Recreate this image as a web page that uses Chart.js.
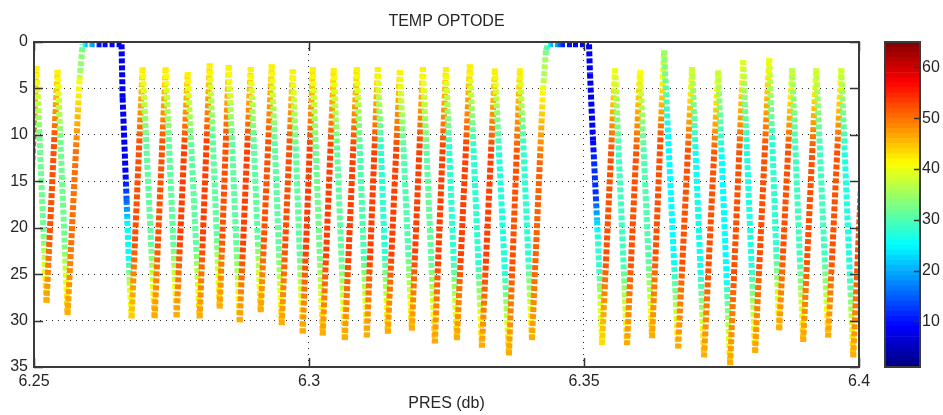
<!DOCTYPE html>
<html>
<head>
<meta charset="utf-8">
<script src="https://cdn.jsdelivr.net/npm/chart.js@4.4.1/dist/chart.umd.min.js"></script>
<style>
  body { margin: 0; background: #fff; }
  #wrap { position: relative; width: 943px; height: 415px; }
  #main { position: absolute; left: 0; top: 0; }
  #bar { position: absolute; left: 860px; top: 0; }
</style>
</head>
<body>
<div id="wrap">
  <canvas id="main" width="943" height="415"></canvas>
  <canvas id="bar" width="83" height="415"></canvas>
</div>
<script>
// turning points of the profile track (pressure, depth) with optode reading
const pres = [
  6.24864, 6.25045, 6.25227, 6.25428, 6.2561, 6.25828, 6.25883, 6.26137, 6.26247, 6.26592,
  6.26611, 6.26683, 6.26738, 6.26774, 6.26975, 6.27193, 6.27393, 6.27593, 6.27793, 6.28012,
  6.28194, 6.28376, 6.2854, 6.2874, 6.2894, 6.29122, 6.29322, 6.29504, 6.29704, 6.29886,
  6.30068, 6.3025, 6.3045, 6.30651, 6.30869, 6.31051, 6.31251, 6.31433, 6.31652, 6.3187,
  6.3207, 6.32288, 6.32489, 6.32689, 6.32925, 6.33144, 6.3338, 6.33635, 6.33835, 6.34054,
  6.34254, 6.34309, 6.34345, 6.34563, 6.348, 6.35091, 6.35109, 6.35164, 6.35237, 6.35291,
  6.35328, 6.35564, 6.35783, 6.36019, 6.36238, 6.36456, 6.36711, 6.36965, 6.37184, 6.37439,
  6.37657, 6.37894, 6.38112, 6.38367, 6.38549, 6.38785, 6.38985, 6.39222, 6.3944, 6.39677,
  6.39895, 6.40132
];
const depth = [
  27.8, 2.6, 28.1, 3.0, 29.4, 4.1, 0.25, 0.25, 0.25, 0.25,
  6.0, 17.0, 25.7, 29.75, 2.7, 29.75, 2.7, 29.65, 3.25, 29.75,
  2.3, 28.7, 2.5, 30.2, 2.7, 29.1, 2.4, 30.5, 2.95, 31.4,
  2.7, 31.6, 2.85, 32.1, 2.7, 31.8, 2.7, 31.4, 3.05, 31.05,
  2.7, 32.45, 2.7, 32.1, 2.4, 32.9, 2.85, 33.75, 2.85, 32.1,
  5.2, 0.9, 0.25, 0.25, 0.25, 0.25, 3.4, 10.6, 19.2, 26.4,
  32.65, 2.85, 32.65, 3.05, 31.9, 0.9, 33.0, 2.7, 33.95, 3.05,
  34.8, 1.95, 33.5, 1.75, 31.05, 2.85, 32.3, 2.85, 31.8, 2.85,
  33.95, 2.85
];
const optode = [
  46, 42, 46, 42, 46, 40, 30, 12, 10, 8,
  8, 15, 36, 44, 42, 46, 42, 46, 42, 46,
  42, 46, 42, 46, 42, 46, 42, 46, 42, 46,
  42, 46, 42, 46, 42, 46, 42, 46, 42, 46,
  42, 46, 42, 46, 42, 46, 42, 46, 42, 46,
  41, 32, 28, 14, 9, 8, 8, 9, 22, 34,
  43, 40, 46, 41, 46, 35, 46, 38, 46, 38,
  46, 39, 46, 40, 46, 37, 46, 38, 46, 38,
  46, 42
];
// optode reading in the middle of each leg between two turning points
const optodeMid = [
  52, 32, 52, 32, 50, 34, 20, 10, 9, 8,
  8, 25, 40, 52, 31, 52, 31, 53, 31, 53,
  31, 52, 31, 53, 31, 52, 31, 52, 31, 53,
  32, 53, 31, 53, 30, 53, 28, 53, 30, 53,
  31, 53, 28, 53, 28, 53, 27, 52, 28, 51,
  36, 30, 20, 10, 8, 8, 8, 12, 28, 39,
  52, 29, 52, 30, 52, 25, 52, 26, 52, 25,
  52, 27, 52, 28, 52, 29, 52, 29, 52, 27,
  52
];

const presTicks = [6.25, 6.3, 6.35, 6.4];
const depthTicks = [0, 5, 10, 15, 20, 25, 30, 35];
const cbTicks = [10, 20, 30, 40, 50, 60];
const cbMin = 1;
const cbMax = 65;

Chart.defaults.font.family = "'Liberation Sans', Arial, sans-serif";
Chart.defaults.font.size = 16;
Chart.defaults.color = "#262626";

function jet(v) {
  const t = Math.min(1, Math.max(0, (v - cbMin) / (cbMax - cbMin)));
  const f = (c) => Math.round(255 * Math.min(1, Math.max(0, 1.5 - Math.abs(4 * t - c))));
  return `rgb(${f(3)},${f(2)},${f(1)})`;
}

const mainCanvas = document.getElementById("main");
const mainCtx = mainCanvas.getContext("2d");

function legColor(ctx) {
  const i = ctx.p0DataIndex;
  const v0 = optode[i];
  const vm = optodeMid[i];
  const v1 = optode[i + 1];
  const g = mainCtx.createLinearGradient(ctx.p0.x, ctx.p0.y, ctx.p1.x, ctx.p1.y);
  for (let s = 0; s <= 20; s++) {
    const t = s / 20;
    let v = vm;
    if (t < 0.3) v = v0 + ((vm - v0) * t) / 0.3;
    else if (t > 0.7) v = vm + ((v1 - vm) * (t - 0.7)) / 0.3;
    g.addColorStop(t, jet(v));
  }
  return g;
}

const axesBox = {
  id: "axesBox",
  afterDatasetsDraw(chart) {
    const { ctx, chartArea: a, scales } = chart;
    ctx.save();
    ctx.strokeStyle = "#333";
    ctx.lineWidth = 1.5;
    ctx.beginPath();
    presTicks.forEach((v) => {
      const px = Math.round(scales.x.getPixelForValue(v)) + 0.5;
      ctx.moveTo(px, a.bottom);
      ctx.lineTo(px, a.bottom - 9);
      ctx.moveTo(px, a.top);
      ctx.lineTo(px, a.top + 9);
    });
    depthTicks.forEach((v) => {
      const py = Math.round(scales.y.getPixelForValue(v)) + 0.5;
      ctx.moveTo(a.left, py);
      ctx.lineTo(a.left + 9, py);
      ctx.moveTo(a.right, py);
      ctx.lineTo(a.right - 9, py);
    });
    ctx.stroke();
    ctx.lineWidth = 2;
    ctx.strokeStyle = "#3a3a3a";
    ctx.strokeRect(a.left, a.top, a.width, a.height);
    ctx.restore();
  },
};

new Chart(mainCanvas, {
  type: "scatter",
  data: {
    datasets: [
      {
        label: "TEMP OPTODE",
        data: pres.map((x, i) => ({ x, y: depth[i] })),
        showLine: true,
        pointRadius: 0,
        pointHoverRadius: 0,
        borderWidth: 6,
        borderDash: [5, 2],
        borderColor: jet(46),
        clip: 0,
        segment: { borderColor: legColor },
      },
    ],
  },
  options: {
    responsive: false,
    animation: false,
    events: [],
    layout: { padding: { left: 0, right: 84, top: 0, bottom: 0 } },
    plugins: {
      legend: { display: false },
      tooltip: { enabled: false },
      title: {
        display: true,
        text: "TEMP OPTODE",
        fullSize: false,
        font: { size: 16, weight: "normal" },
        color: "#262626",
        padding: { top: 12, bottom: 10.8 },
      },
    },
    scales: {
      x: {
        type: "linear",
        min: 6.25,
        max: 6.4,
        afterBuildTicks: (scale) => {
          scale.ticks = presTicks.map((value) => ({ value }));
        },
        afterFit: (scale) => {
          scale.height = 48;
        },
        ticks: {
          autoSkip: false,
          maxRotation: 0,
          padding: 5,
          callback: (v) => String(v),
        },
        grid: { color: "#2b2b2b", lineWidth: 1, drawTicks: false },
        border: { display: false, dash: [1, 5] },
        title: {
          display: true,
          text: "PRES (db)",
          font: { size: 16 },
          padding: { top: 0, bottom: 2 },
        },
      },
      y: {
        type: "linear",
        reverse: true,
        min: 0,
        max: 35,
        afterBuildTicks: (scale) => {
          scale.ticks = depthTicks.map((value) => ({ value }));
        },
        afterFit: (scale) => {
          scale.width = 34;
        },
        ticks: { autoSkip: false, padding: 6, callback: (v) => String(v) },
        grid: { color: "#2b2b2b", lineWidth: 1, drawTicks: false },
        border: { display: false, dash: [1, 5] },
      },
    },
  },
  plugins: [axesBox],
});

// colour bar
const binCount = cbMax - cbMin;
const barSets = [];
for (let k = 0; k < binCount; k++) {
  barSets.push({
    data: [[cbMin + k, cbMin + k + 1]],
    backgroundColor: jet(cbMin + k + 0.5),
    borderWidth: 0,
    grouped: false,
    barPercentage: 1,
    categoryPercentage: 1,
  });
}

const barBox = {
  id: "barBox",
  afterDatasetsDraw(chart) {
    const { ctx, chartArea: a, scales } = chart;
    ctx.save();
    ctx.strokeStyle = "#333";
    ctx.lineWidth = 1.5;
    ctx.beginPath();
    cbTicks.forEach((v) => {
      const py = Math.round(scales.y.getPixelForValue(v)) + 0.5;
      ctx.moveTo(a.right, py);
      ctx.lineTo(a.right - 6, py);
    });
    ctx.stroke();
    ctx.lineWidth = 2;
    ctx.strokeStyle = "#3a3a3a";
    ctx.strokeRect(a.left, a.top, a.width, a.height);
    ctx.restore();
  },
};

new Chart(document.getElementById("bar"), {
  type: "bar",
  data: { labels: [""], datasets: barSets },
  options: {
    responsive: false,
    animation: false,
    events: [],
    layout: { padding: { left: 25, right: 0, top: 42, bottom: 48 } },
    plugins: { legend: { display: false }, tooltip: { enabled: false } },
    scales: {
      x: { display: false },
      y: {
        position: "right",
        min: cbMin,
        max: cbMax,
        afterBuildTicks: (scale) => {
          scale.ticks = cbTicks.map((value) => ({ value }));
        },
        afterFit: (scale) => {
          scale.width = 23;
        },
        ticks: { padding: 2, callback: (v) => String(v) },
        grid: { display: false, drawTicks: false },
        border: { display: false },
      },
    },
  },
  plugins: [barBox],
});
</script>
</body>
</html>
